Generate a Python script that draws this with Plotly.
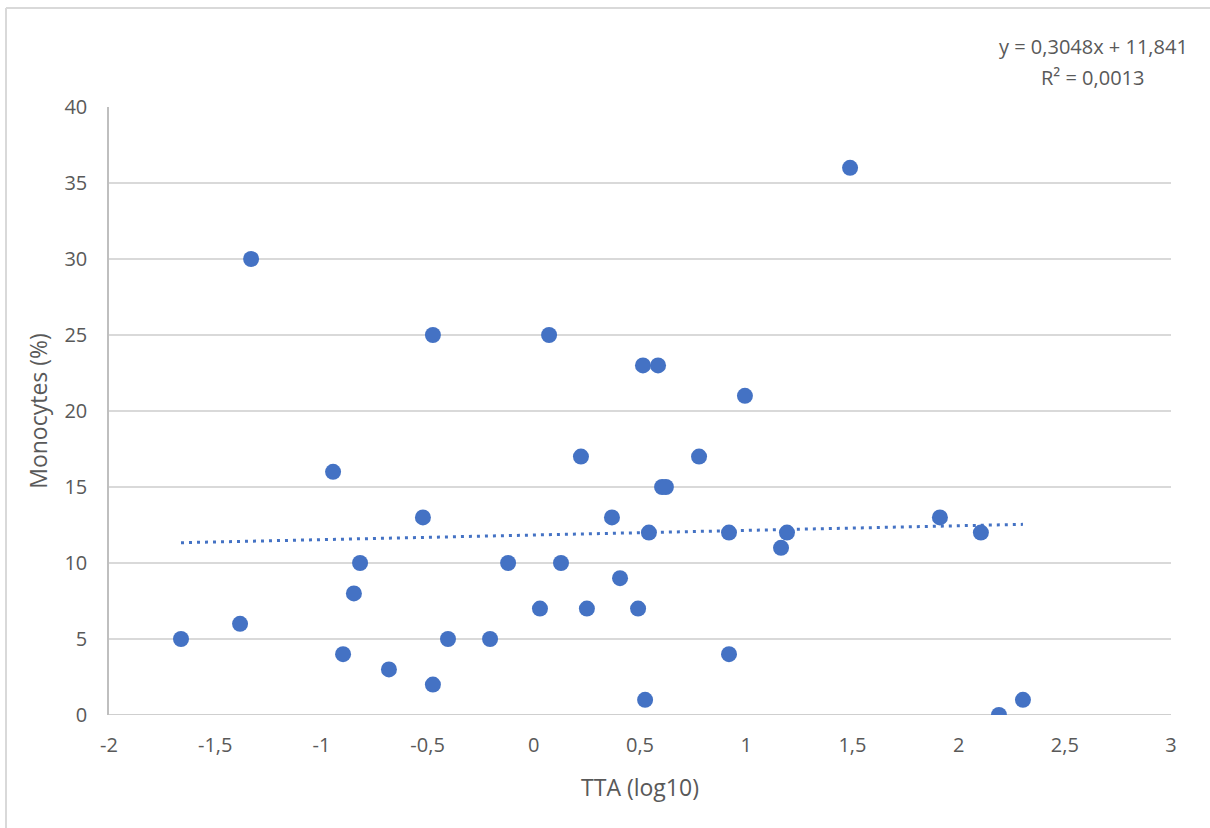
import plotly.graph_objects as go

tta_log10 = [-1.661, -1.383, -1.331, -0.945, -0.898, -0.847, -0.818, -0.682, -0.522,
             -0.475, -0.475, -0.404, -0.206, -0.121, 0.029, 0.072, 0.128, 0.222, 0.250,
             0.368, 0.406, 0.491, 0.514, 0.524, 0.542, 0.585, 0.604, 0.622, 0.778,
             0.919, 0.919, 0.994, 1.164, 1.192, 1.489, 1.912, 2.105, 2.190, 2.303]
monocytes = [5, 6, 30, 16, 4, 8, 10, 3, 13,
             25, 2, 5, 5, 10, 7, 25, 10, 17, 7,
             13, 9, 7, 23, 1, 12, 23, 15, 15, 17,
             12, 4, 21, 11, 12, 36, 13, 12, 0, 1]

slope = 0.3048
intercept = 11.841
eq_text = "y = 0,3048x + 11,841"
r2_text = "R² = 0,0013"

x_ticks = [-2, -1.5, -1, -0.5, 0, 0.5, 1, 1.5, 2, 2.5, 3]
x_tick_labels = ["-2", "-1,5", "-1", "-0,5", "0", "0,5", "1", "1,5", "2", "2,5", "3"]
y_ticks = [0, 5, 10, 15, 20, 25, 30, 35, 40]

FONT = "Open Sans, Liberation Sans, sans-serif"
GREY = "#595959"
BLUE = "#4472C4"

x_min, x_max = min(tta_log10), max(tta_log10)
trend_x = [x_min, x_max]
trend_y = [slope * v + intercept for v in trend_x]

fig = go.Figure()
fig.add_trace(go.Scatter(
    x=trend_x, y=trend_y, mode="lines",
    line=dict(color=BLUE, width=3, dash="3px,5px"),
    hoverinfo="skip", showlegend=False))
fig.add_trace(go.Scatter(
    x=tta_log10, y=monocytes, mode="markers",
    marker=dict(color=BLUE, size=16, line=dict(width=0)),
    showlegend=False))

fig.update_layout(
    width=1210, height=828,
    margin=dict(l=109, r=39, t=107, b=113),
    paper_bgcolor="white", plot_bgcolor="white",
    font=dict(family=FONT, color=GREY, size=21),
    showlegend=False,
    xaxis=dict(
        range=[-2, 3], tickmode="array", tickvals=x_ticks, ticktext=x_tick_labels,
        showgrid=False, zeroline=False, showline=False,
        ticks="", tickfont=dict(size=20, color=GREY), ticklabelstandoff=16,
        title=dict(text="TTA (log10)", font=dict(size=23, color=GREY), standoff=22),
    ),
    yaxis=dict(
        range=[0, 40], tickmode="array", tickvals=y_ticks,
        showgrid=True, gridcolor="#d9d9d9", gridwidth=1.5,
        zeroline=False, showline=True, linecolor="#bfbfbf", linewidth=1.5,
        ticks="", tickfont=dict(size=20, color=GREY), ticklabelstandoff=16,
        title=dict(text="Monocytes (%)", font=dict(size=23, color=GREY), standoff=10),
    ),
)

# x axis baseline at y = 0
fig.add_shape(type="line", xref="paper", yref="y", x0=0, x1=1, y0=0, y1=0,
              line=dict(color="#bfbfbf", width=1.5), layer="below")

# chart border (left and top edges visible)
fig.add_shape(type="line", xref="paper", yref="paper",
              x0=-0.097, x1=-0.097, y0=-0.3, y1=1.163,
              line=dict(color="#d9d9d9", width=2))
fig.add_shape(type="line", xref="paper", yref="paper",
              x0=-0.097, x1=1.1, y0=1.163, y1=1.163,
              line=dict(color="#d9d9d9", width=2))

fig.add_annotation(
    xref="paper", yref="paper", x=1.018, y=1.0987,
    xanchor="right", yanchor="middle", align="right", showarrow=False,
    text=eq_text, font=dict(size=20, color=GREY, family=FONT))
fig.add_annotation(
    xref="paper", yref="paper", x=0.9265, y=1.0493,
    xanchor="center", yanchor="middle", align="center", showarrow=False,
    text=r2_text, font=dict(size=20, color=GREY, family=FONT))

fig.write_html("out.html", config={"displayModeBar": False},
               post_script="document.body.style.margin='0';document.body.style.overflow='hidden';")
